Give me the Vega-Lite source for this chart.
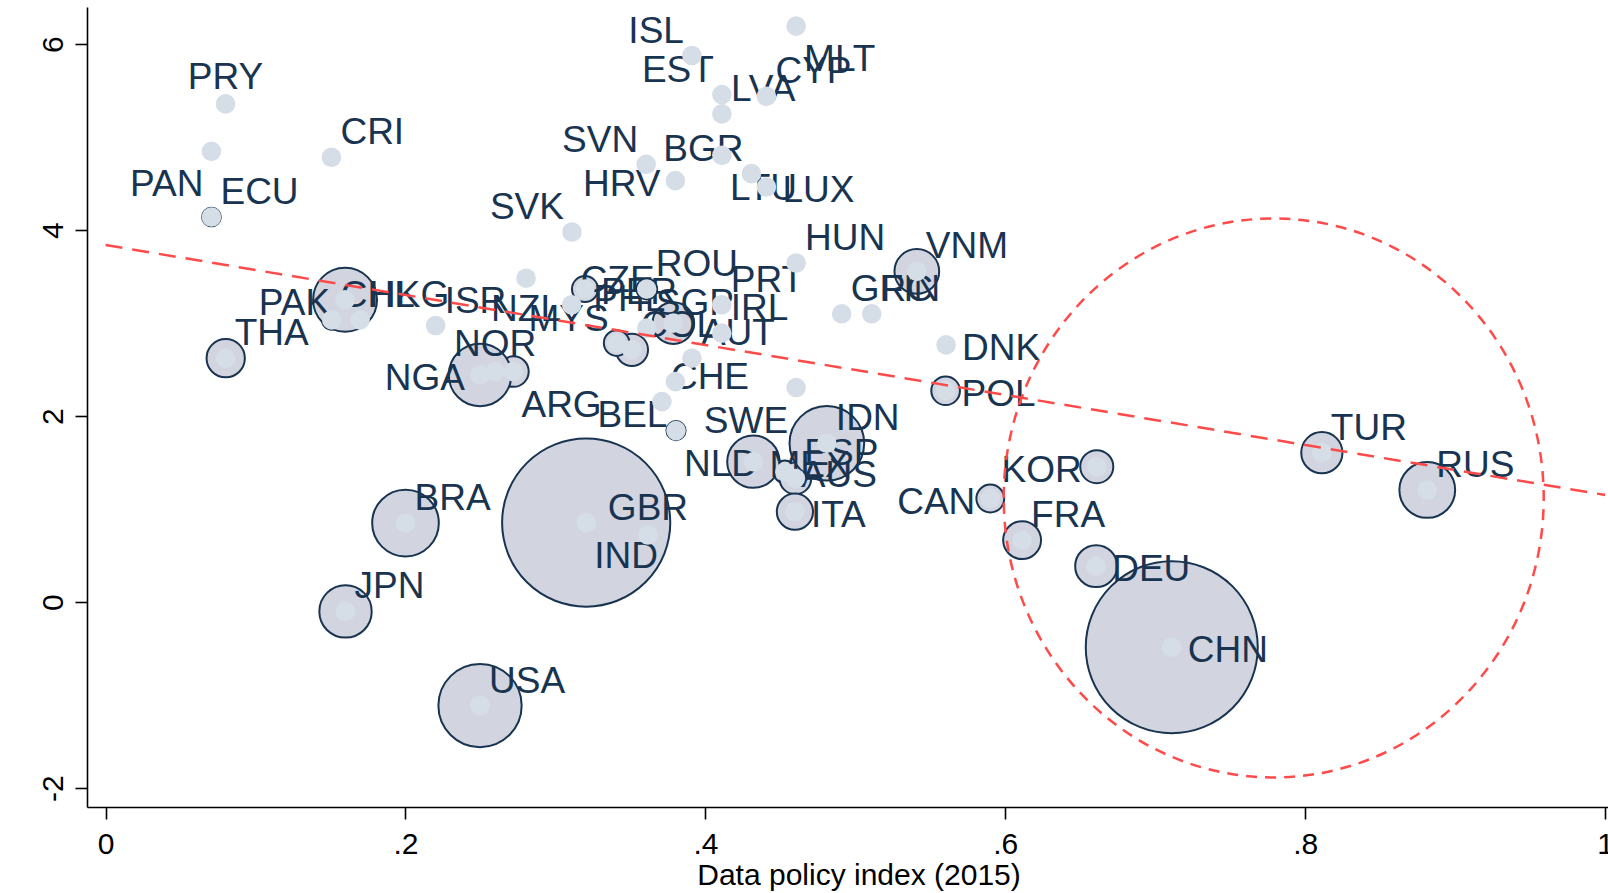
{
  "$schema": "https://vega.github.io/schema/vega-lite/v6.json",
  "width": 1521,
  "height": 800,
  "autosize": {"type": "none"},
  "padding": {"left": 87, "top": 7, "right": 0, "bottom": 86},
  "background": "white",
  "config": {"view": {"stroke": null}, "font": "Liberation Sans"},
  "data": {"values": [
    {"iso": "ARG", "x": 0.272, "y": 2.479, "pop": 43.1, "pos": 5},
    {"iso": "AUS", "x": 0.453, "y": 1.40, "pop": 23.8, "pos": 3},
    {"iso": "AUT", "x": 0.391, "y": 2.623, "pop": 8.6, "pos": 1},
    {"iso": "BEL", "x": 0.380, "y": 2.371, "pop": 11.3, "pos": 7},
    {"iso": "BGR", "x": 0.4307, "y": 4.607, "pop": 7.2, "pos": 11},
    {"iso": "BRA", "x": 0.200, "y": 0.85, "pop": 205.9, "pos": 1},
    {"iso": "CAN", "x": 0.590, "y": 1.114, "pop": 35.9, "pos": 9},
    {"iso": "CHE", "x": 0.371, "y": 2.156, "pop": 8.3, "pos": 1},
    {"iso": "CHL", "x": 0.1508, "y": 3.035, "pop": 17.8, "pos": 1},
    {"iso": "CHN", "x": 0.711, "y": -0.485, "pop": 1371, "pos": 3},
    {"iso": "COL", "x": 0.351, "y": 2.713, "pop": 48.2, "pos": 1},
    {"iso": "CRI", "x": 0.1506, "y": 4.783, "pop": 4.8, "pos": 1},
    {"iso": "CYP", "x": 0.4407, "y": 5.439, "pop": 1.2, "pos": 1},
    {"iso": "CZE", "x": 0.3108, "y": 3.197, "pop": 10.5, "pos": 1},
    {"iso": "DEU", "x": 0.6606, "y": 0.387, "pop": 81.7, "pos": 3},
    {"iso": "DNK", "x": 0.5605, "y": 2.766, "pop": 5.7, "pos": 3},
    {"iso": "ECU", "x": 0.0706, "y": 4.141, "pop": 16.1, "pos": 1},
    {"iso": "ESP", "x": 0.460, "y": 1.33, "pop": 46.4, "pos": 1},
    {"iso": "EST", "x": 0.411, "y": 5.457, "pop": 1.3, "pos": 11},
    {"iso": "FIN", "x": 0.5109, "y": 3.10, "pop": 5.5, "pos": 1},
    {"iso": "FRA", "x": 0.6112, "y": 0.667, "pop": 66.6, "pos": 1},
    {"iso": "GBR", "x": 0.3617, "y": 0.721, "pop": 65.1, "pos": 12},
    {"iso": "GRC", "x": 0.4909, "y": 3.10, "pop": 10.8, "pos": 1},
    {"iso": "HKG", "x": 0.1697, "y": 3.035, "pop": 7.3, "pos": 1},
    {"iso": "HRV", "x": 0.380, "y": 4.532, "pop": 4.2, "pos": 9},
    {"iso": "HUN", "x": 0.4605, "y": 3.646, "pop": 9.8, "pos": 1},
    {"iso": "IDN", "x": 0.481, "y": 1.708, "pop": 258.2, "pos": 1},
    {"iso": "IND", "x": 0.3205, "y": 0.855, "pop": 1311, "pos": 5},
    {"iso": "IRL", "x": 0.4109, "y": 2.892, "pop": 4.7, "pos": 1},
    {"iso": "ISL", "x": 0.391, "y": 5.877, "pop": 0.33, "pos": 11},
    {"iso": "ISR", "x": 0.2201, "y": 2.974, "pop": 8.4, "pos": 1},
    {"iso": "ITA", "x": 0.4597, "y": 0.972, "pop": 60.7, "pos": 3},
    {"iso": "JPN", "x": 0.160, "y": -0.10, "pop": 127.1, "pos": 1},
    {"iso": "KOR", "x": 0.661, "y": 1.456, "pop": 50.6, "pos": 9},
    {"iso": "LTU", "x": 0.411, "y": 4.804, "pop": 2.9, "pos": 5},
    {"iso": "LUX", "x": 0.4407, "y": 4.464, "pop": 0.57, "pos": 3},
    {"iso": "LVA", "x": 0.411, "y": 5.25, "pop": 2.0, "pos": 1},
    {"iso": "MEX", "x": 0.432, "y": 1.51, "pop": 127.0, "pos": 3},
    {"iso": "MLT", "x": 0.4605, "y": 6.193, "pop": 0.43, "pos": 5},
    {"iso": "MYS", "x": 0.3408, "y": 2.785, "pop": 30.3, "pos": 11},
    {"iso": "NGA", "x": 0.2497, "y": 2.443, "pop": 181.1, "pos": 9},
    {"iso": "NLD", "x": 0.3804, "y": 1.844, "pop": 16.9, "pos": 5},
    {"iso": "NOR", "x": 0.2597, "y": 2.48, "pop": 5.2, "pos": 12},
    {"iso": "NZL", "x": 0.2804, "y": 3.483, "pop": 4.6, "pos": 6},
    {"iso": "PAK", "x": 0.1597, "y": 3.251, "pop": 189.4, "pos": 9},
    {"iso": "PAN", "x": 0.0706, "y": 4.847, "pop": 3.9, "pos": 7},
    {"iso": "PER", "x": 0.3197, "y": 3.366, "pop": 31.4, "pos": 3},
    {"iso": "PHL", "x": 0.3786, "y": 3.0, "pop": 80.0, "pos": 11},
    {"iso": "POL", "x": 0.5602, "y": 2.273, "pop": 38.0, "pos": 3},
    {"iso": "PRT", "x": 0.4109, "y": 3.197, "pop": 10.4, "pos": 1},
    {"iso": "PRY", "x": 0.080, "y": 5.357, "pop": 6.6, "pos": 12},
    {"iso": "ROU", "x": 0.3609, "y": 3.366, "pop": 19.8, "pos": 1},
    {"iso": "RUS", "x": 0.8814, "y": 1.206, "pop": 144.1, "pos": 1},
    {"iso": "SGP", "x": 0.3609, "y": 2.946, "pop": 5.5, "pos": 1},
    {"iso": "SVK", "x": 0.311, "y": 3.98, "pop": 5.4, "pos": 11},
    {"iso": "SVN", "x": 0.3605, "y": 4.707, "pop": 2.1, "pos": 11},
    {"iso": "SWE", "x": 0.4605, "y": 2.307, "pop": 9.8, "pos": 7},
    {"iso": "THA", "x": 0.0801, "y": 2.623, "pop": 68.0, "pos": 1},
    {"iso": "TUR", "x": 0.8111, "y": 1.607, "pop": 78.7, "pos": 1},
    {"iso": "USA", "x": 0.2497, "y": -1.112, "pop": 321.4, "pos": 1},
    {"iso": "VNM", "x": 0.541, "y": 3.556, "pop": 92.7, "pos": 1}
  ]},
  "encoding": {
    "x": {
      "field": "x", "type": "quantitative",
      "scale": {"domain": [-0.0124, 1.00193], "nice": false, "zero": false},
      "axis": {
        "values": [0, 0.2, 0.4, 0.6, 0.8, 1],
        "labelExpr": "datum.value == 0 ? '0' : datum.value >= 1 ? '1' : '.' + round(datum.value * 10)",
        "title": "Data policy index (2015)",
        "titleFont": "Liberation Sans", "titleFontSize": 30, "titleFontWeight": "normal", "titleColor": "#000000",
        "titleX": 771.5, "titleY": 77, "titleAlign": "center", "titleBaseline": "alphabetic",
        "labelFont": "Liberation Sans", "labelFontSize": 30, "labelColor": "#000000",
        "labelPadding": 10, "tickSize": 12, "labelFlush": false, "labelOverlap": false, "labelBound": false,
        "domainColor": "#000000", "tickColor": "#000000", "domainWidth": 1.6, "tickWidth": 1.6, "grid": false
      }
    },
    "y": {
      "field": "y", "type": "quantitative",
      "scale": {"domain": [-2.203, 6.399], "nice": false, "zero": false},
      "axis": {
        "values": [-2, 0, 2, 4, 6],
        "labelExpr": "datum.value < 0 ? '-' + abs(datum.value) : '' + datum.value",
        "title": null,
        "labelFont": "Liberation Sans", "labelFontSize": 30, "labelColor": "#000000",
        "labelAngle": 270, "labelAlign": "center", "labelBaseline": "alphabetic",
        "labelPadding": 13, "tickSize": 12, "labelFlush": false, "labelOverlap": false,
        "domainColor": "#000000", "tickColor": "#000000", "domainWidth": 1.6, "tickWidth": 1.6, "grid": false
      }
    }
  },
  "layer": [
    {
      "mark": {"type": "circle", "fill": "#d2d5df", "stroke": "#183451", "strokeWidth": 2, "opacity": 1, "fillOpacity": 1},
      "encoding": {
        "size": {"field": "pop", "type": "quantitative", "scale": {"type": "linear", "domain": [0, 1371], "range": [0, 29584], "zero": true}, "legend": null}
      }
    },
    {
      "transform": [{"filter": "datum.pos == 1"}],
      "mark": {"type": "text", "align": "left", "baseline": "alphabetic", "dx": 9, "dy": -13, "fontSize": 37, "font": "Liberation Sans", "color": "#183451"},
      "encoding": {"text": {"field": "iso"}}
    },
    {
      "transform": [{"filter": "datum.pos == 3"}],
      "mark": {"type": "text", "align": "left", "baseline": "alphabetic", "dx": 16, "dy": 15, "fontSize": 37, "font": "Liberation Sans", "color": "#183451"},
      "encoding": {"text": {"field": "iso"}}
    },
    {
      "transform": [{"filter": "datum.pos == 5"}],
      "mark": {"type": "text", "align": "left", "baseline": "alphabetic", "dx": 8, "dy": 45, "fontSize": 37, "font": "Liberation Sans", "color": "#183451"},
      "encoding": {"text": {"field": "iso"}}
    },
    {
      "transform": [{"filter": "datum.pos == 6"}],
      "mark": {"type": "text", "align": "center", "baseline": "alphabetic", "dx": 0, "dy": 43, "fontSize": 37, "font": "Liberation Sans", "color": "#183451"},
      "encoding": {"text": {"field": "iso"}}
    },
    {
      "transform": [{"filter": "datum.pos == 7"}],
      "mark": {"type": "text", "align": "right", "baseline": "alphabetic", "dx": -8, "dy": 45, "fontSize": 37, "font": "Liberation Sans", "color": "#183451"},
      "encoding": {"text": {"field": "iso"}}
    },
    {
      "transform": [{"filter": "datum.pos == 9"}],
      "mark": {"type": "text", "align": "right", "baseline": "alphabetic", "dx": -15, "dy": 15, "fontSize": 37, "font": "Liberation Sans", "color": "#183451"},
      "encoding": {"text": {"field": "iso"}}
    },
    {
      "transform": [{"filter": "datum.pos == 11"}],
      "mark": {"type": "text", "align": "right", "baseline": "alphabetic", "dx": -8, "dy": -12.5, "fontSize": 37, "font": "Liberation Sans", "color": "#183451"},
      "encoding": {"text": {"field": "iso"}}
    },
    {
      "transform": [{"filter": "datum.pos == 12"}],
      "mark": {"type": "text", "align": "center", "baseline": "alphabetic", "dx": 0, "dy": -15, "fontSize": 37, "font": "Liberation Sans", "color": "#183451"},
      "encoding": {"text": {"field": "iso"}}
    },
    {
      "mark": {"type": "circle", "size": 384, "fill": "#d5dde7", "strokeWidth": 0, "opacity": 1, "fillOpacity": 1},
      "encoding": {}
    },
    {
      "data": {"values": [{"x": 0, "y": 3.84}, {"x": 1.0, "y": 1.152}]},
      "mark": {"type": "line", "color": "#ff4a4a", "strokeWidth": 2.5, "strokeDash": [17, 10]},
      "encoding": {}
    },
    {
      "data": {"values": [{"x": 0.779, "y": 1.12}]},
      "mark": {"type": "point", "shape": "M-1,0A1,1.035,0,1,1,1,0A1,1.035,0,1,1,-1,0Z", "size": 291600, "filled": false, "color": "#ff4a4a", "strokeWidth": 2.5, "strokeDash": [11, 8], "opacity": 1},
      "encoding": {}
    }
  ]
}
